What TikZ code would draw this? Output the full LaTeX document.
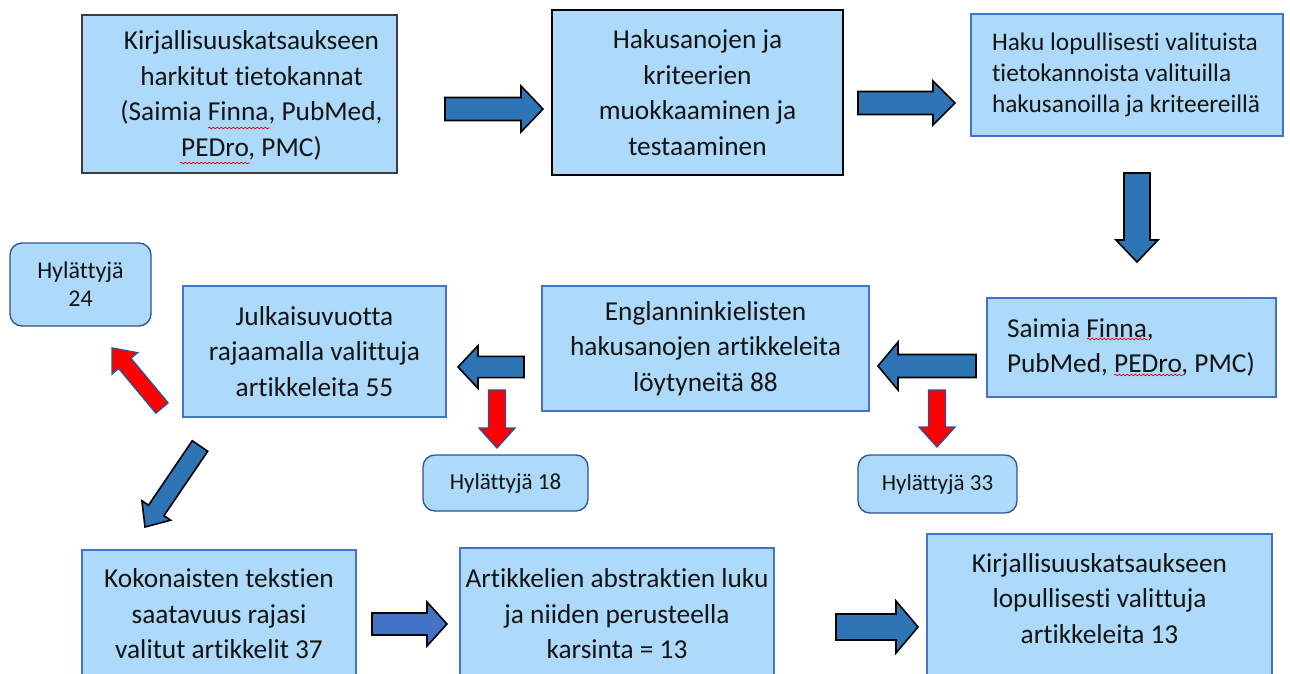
\documentclass[tikz,border=0pt]{standalone}
\usepackage{fontspec}
\setmainfont[Ligatures={NoCommon}]{Carlito}
\usetikzlibrary{calc,decorations.pathmorphing}
\definecolor{boxfill}{RGB}{173,218,250}
\definecolor{boxblue}{RGB}{68,114,196}
\definecolor{boxdark}{RGB}{60,60,60}
\definecolor{arrowblue}{RGB}{46,117,182}
\definecolor{arrowlight}{RGB}{68,114,196}
\definecolor{redline}{RGB}{47,82,143}
\definecolor{txt}{RGB}{20,20,20}
\newcommand\barrow[6]{%
  \coordinate (ba-h) at ($(#3)!#6!(#2)$);
  \draw[#1] ($(#2)!#4!90:(#3)$) -- ($(ba-h)!#4!-90:(#2)$) -- ($(ba-h)!#5!-90:(#2)$) -- (#3)
    -- ($(ba-h)!#5!90:(#2)$) -- ($(ba-h)!#4!90:(#2)$) -- ($(#2)!#4!-90:(#3)$) -- cycle;
}
\begin{document}
\begin{tikzpicture}[x=0.75pt,y=-0.75pt,
  box/.style={draw=boxblue, fill=boxfill, line width=1pt, text=txt, align=center, inner sep=0pt},
  big/.style={font=\fontsize{20.5}{26.6}\selectfont},
  mid/.style={font=\fontsize{19}{23.25}\selectfont},
  small/.style={font=\fontsize{17.25}{21}\selectfont},
  rbox/.style={box, rounded corners=9pt, draw=redline},
  bluearrow/.style={fill=arrowblue, draw=black, line width=1.2pt, line join=miter},
  lightarrow/.style={fill=arrowlight, draw=black, line width=1.2pt},
  redarrow/.style={fill=red, draw=redline, line width=1pt},
  squiggle/.style={draw=red!85!black, line width=0.5pt, decorate, decoration={snake, amplitude=0.6pt, segment length=3pt}}
]
\clip (0,0) rectangle (1290,674);
\fill[white] (0,0) rectangle (1290,674);

% top row
\node[box, draw=boxdark, minimum width=236.25pt, minimum height=118.5pt] (A) at (239.5,94) {};
\node[big, align=center, text=txt, inner sep=0pt] (At) at (251.5,95.5)
  {Kirjallisuuskatsaukseen\\harkitut tietokannat\\(Saimia Finna, PubMed,\\PEDro, PMC)};
\node[box, big, draw=black, minimum width=218.25pt, minimum height=123.75pt] (B) at (697.5,92.5)
  {Hakusanojen ja\\kriteerien\\muokkaaminen ja\\testaaminen};
\node[box, mid, align=flush left, inner xsep=15.75pt, text width=202.5pt, minimum height=91.5pt] (C) at (1127,75)
  {Haku lopullisesti valituista\\tietokannoista valituilla\\hakusanoilla ja kriteereillä};

% middle row
\node[box, big, align=flush left, inner xsep=15pt, text width=186.75pt, minimum height=74.25pt] (D) at (1131.5,347.5)
  {Saimia Finna,\\PubMed, PEDro, PMC)};
\node[box, big, minimum width=245.25pt, minimum height=93.75pt] (E) at (705.5,348.5)
  {Englanninkielisten\\hakusanojen artikkeleita\\löytyneitä 88};
\node[box, big, minimum width=197.25pt, minimum height=98.25pt] (F) at (314.5,351.5)
  {Julkaisuvuotta\\rajaamalla valittuja\\artikkeleita 55};
\node[rbox, small, font=\fontsize{18}{21}\selectfont, minimum width=105.75pt, minimum height=62.25pt] (G) at (80.5,284.5)
  {Hylättyjä\\24};
\node[rbox, small, minimum width=123.75pt, minimum height=42pt] (R18) at (505.5,483)
  {Hylättyjä 18};
\node[rbox, small, minimum width=119.25pt, minimum height=43.5pt] (R33) at (937.5,484)
  {Hylättyjä 33};

% bottom row
\node[box, big, minimum width=205.5pt, minimum height=96pt] (H) at (219,614)
  {Kokonaisten tekstien\\saatavuus rajasi\\valitut artikkelit 37};
\node[box, big, minimum width=235.5pt, minimum height=99pt] (I) at (617,614)
  {Artikkelien abstraktien luku\\ja niiden perusteella\\karsinta = 13};
\node[box, minimum width=258.75pt, minimum height=109.5pt] (J) at (1099.5,607) {};
\node[big, align=center, text=txt, inner sep=0pt] (Jt) at (1099.5,598.5)
  {Kirjallisuuskatsaukseen\\lopullisesti valittuja\\artikkeleita 13};

% spell-check squiggles
\draw[squiggle] (208,128) -- (270,128);
\draw[squiggle] (180,163) -- (250,163);
\draw[squiggle] (1087,339) -- (1148,339);
\draw[squiggle] (1114,375) -- (1183,375);

% arrow coordinates
\coordinate (ab1) at (445,109);  \coordinate (ab2) at (543,109);
\coordinate (bc1) at (858,103);  \coordinate (bc2) at (955,103);
\coordinate (cd1) at (1137,173); \coordinate (cd2) at (1137,262);
\coordinate (de1) at (976,366);  \coordinate (de2) at (878,366);
\coordinate (ef1) at (524,367);  \coordinate (ef2) at (458,367);
\coordinate (r1a) at (497,390);  \coordinate (r1b) at (497,448);
\coordinate (r2a) at (937,390);  \coordinate (r2b) at (937,447);
\coordinate (fg1) at (162,408);  \coordinate (fg2) at (112,348);
\coordinate (fh1) at (200,446);  \coordinate (fh2) at (145,527);
\coordinate (hi1) at (372,624);  \coordinate (hi2) at (447,624);
\coordinate (ij1) at (836,627);  \coordinate (ij2) at (918,627);

\barrow{bluearrow}{ab1}{ab2}{8.6pt}{17.25pt}{16.5pt}
\barrow{bluearrow}{bc1}{bc2}{8.6pt}{16.5pt}{16.5pt}
\barrow{bluearrow}{cd1}{cd2}{9.75pt}{15.75pt}{16.5pt}
\barrow{bluearrow}{de1}{de2}{8.6pt}{18pt}{15pt}
\barrow{bluearrow}{ef1}{ef2}{8pt}{16pt}{15pt}
\barrow{redarrow}{r1a}{r1b}{6.4pt}{13.5pt}{15pt}
\barrow{redarrow}{r2a}{r2b}{6.4pt}{13.5pt}{15pt}
\barrow{redarrow}{fg1}{fg2}{6pt}{12.5pt}{15pt}
\barrow{bluearrow}{fh1}{fh2}{7pt}{13pt}{15pt}
\barrow{lightarrow}{hi1}{hi2}{8.25pt}{16.5pt}{15pt}
\barrow{bluearrow}{ij1}{ij2}{9.75pt}{19.5pt}{16.5pt}
\end{tikzpicture}
\end{document}
